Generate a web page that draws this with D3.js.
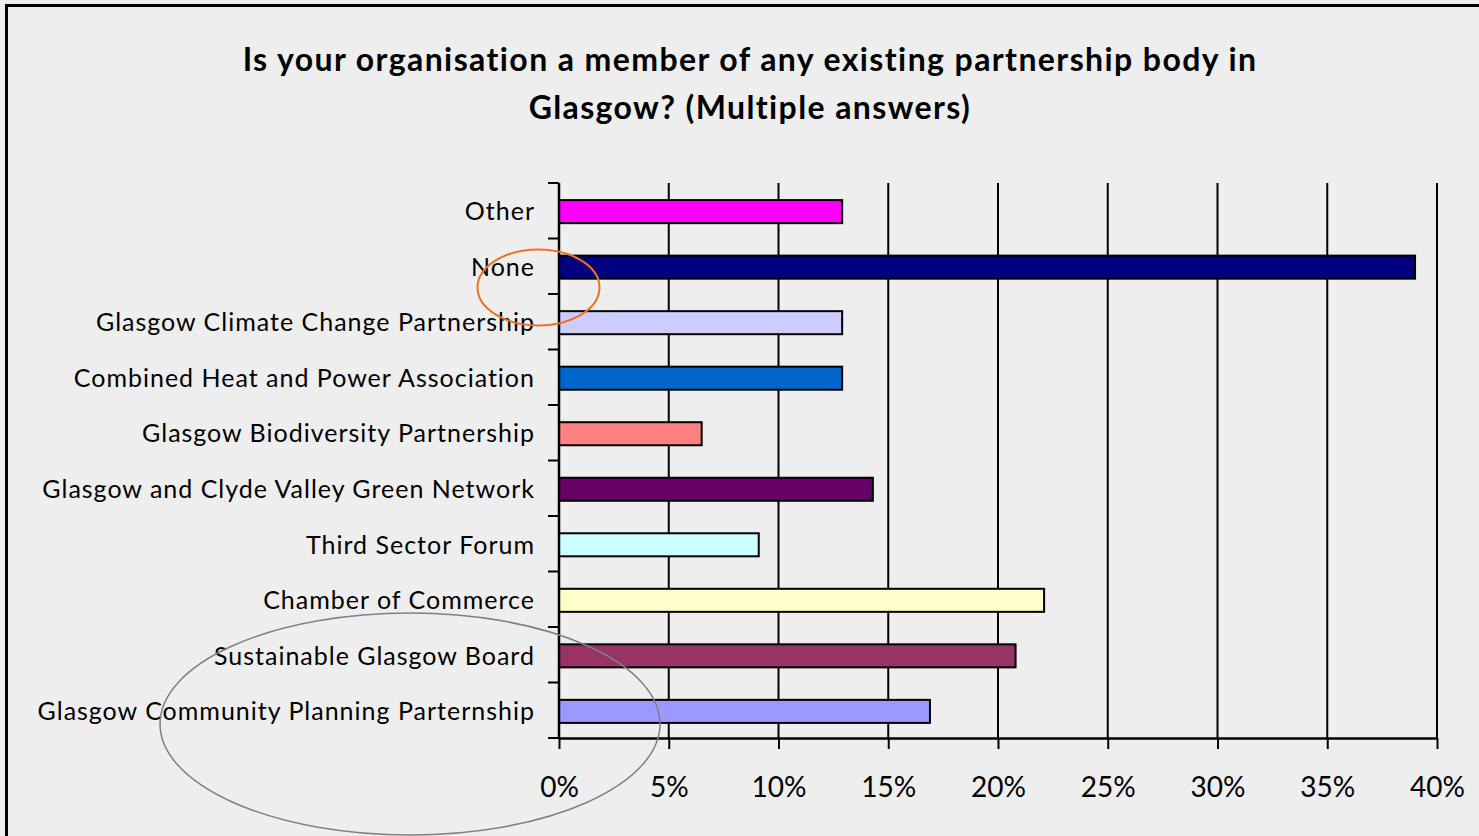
<!DOCTYPE html>
<html>
<head>
<meta charset="utf-8">
<script src="https://cdn.jsdelivr.net/npm/d3@7"></script>
<style>
  html, body { margin: 0; padding: 0; background: #eeeeee; }
  svg { display: block; }
  text { font-family: Lato, "Open Sans", sans-serif; fill: #000; }
  .title { font-weight: bold; font-size: 32px; letter-spacing: 1.4px; }
  .cat text { font-size: 25px; letter-spacing: 1px; }
  .xaxis text { font-size: 28px; }
</style>
</head>
<body>
<svg></svg>
<script>
// categories, top to bottom as in the picture
var categories = [
    "Other",
    "None",
    "Glasgow Climate Change Partnership",
    "Combined Heat and Power Association",
    "Glasgow Biodiversity Partnership",
    "Glasgow and Clyde Valley Green Network",
    "Third Sector Forum",
    "Chamber of Commerce",
    "Sustainable Glasgow Board",
    "Glasgow Community Planning Parternship"
]

// percent of respondents
var values = [12.9, 39.0, 12.9, 12.9, 6.5, 14.3, 9.1, 22.1, 20.8, 16.9]

var colors = ["#ff00ff", "#000080", "#ccccff", "#0066cc", "#ff8080",
    "#660066", "#ccffff", "#ffffcc", "#993366", "#9999ff"]

var xTicks = [0, 5, 10, 15, 20, 25, 30, 35, 40]

var titleLines = [
    "Is your organisation a member of any existing partnership body in",
    "Glasgow? (Multiple answers)"
]

var screen = {
    width: 1479,
    height: 836
}

var margins = {
    left: 559,
    right: 42,
    top: 183,
    bottom: 98
}

var graph = {
    width: screen.width - margins.left - margins.right,
    height: screen.height - margins.top - margins.bottom
}

var svg = d3.select("svg")
    .attr("width", screen.width)
    .attr("height", screen.height)

// chart area background + frame
svg.append("rect")
    .attr("x", 6.5)
    .attr("y", 5.5)
    .attr("width", screen.width + 20)
    .attr("height", screen.height + 20)
    .attr("fill", "#eeeeee")
    .attr("stroke", "black")
    .attr("stroke-width", 3)

var title = svg.append("text")
    .classed("title", true)
    .attr("text-anchor", "middle")
titleLines.forEach(function (line, i) {
    title.append("tspan")
        .attr("x", 750)
        .attr("y", 71 + i * 48)
        .text(line)
})

var xScale = d3.scaleLinear()
    .domain([0, 40])
    .range([0, graph.width])

var yScale = d3.scaleBand()
    .domain(categories)
    .range([0, graph.height])
    .paddingInner(0.585)
    .paddingOuter(0.29)

var target = svg.append("g")
    .attr("transform", "translate(" + margins.left + "," + margins.top + ")")

// vertical gridlines
target.append("g")
    .selectAll("line")
    .data(xTicks.slice(1))
    .enter()
    .append("line")
    .attr("x1", function (t) { return xScale(t) })
    .attr("x2", function (t) { return xScale(t) })
    .attr("y1", 0)
    .attr("y2", graph.height)
    .attr("stroke", "black")
    .attr("stroke-width", 2)

target.append("g")
    .selectAll("rect")
    .data(categories)
    .enter()
    .append("rect")
    .attr("x", 0)
    .attr("y", function (c) { return yScale(c) + 1 })
    .attr("width", function (c, i) { return xScale(values[i]) })
    .attr("height", yScale.bandwidth())
    .attr("fill", function (c, i) { return colors[i] })
    .attr("stroke", "black")
    .attr("stroke-width", 2)

var xAxis = d3.axisBottom(xScale)
    .tickValues(xTicks)
    .tickFormat(function (t) { return t + "%" })
    .tickSize(11)
    .tickSizeOuter(0)
    .tickPadding(28)

var xg = target.append("g")
    .classed("xaxis", true)
    .attr("transform", "translate(0," + graph.height + ")")
    .call(xAxis)
xg.select(".domain").attr("stroke-width", 2.5)
xg.selectAll(".tick line").attr("stroke-width", 2)
xg.selectAll("text").attr("font-family", null)
    .attr("font-size", null)

// category axis: ticks sit between the bars
var catAxis = target.append("g").classed("cat", true)
catAxis.append("line")
    .attr("x1", 0).attr("x2", 0)
    .attr("y1", 0).attr("y2", graph.height)
    .attr("stroke", "black")
    .attr("stroke-width", 2.5)
catAxis.selectAll(".ctick")
    .data(d3.range(categories.length + 1))
    .enter()
    .append("line")
    .attr("x1", -11).attr("x2", 0)
    .attr("y1", function (i) { return i * graph.height / categories.length })
    .attr("y2", function (i) { return i * graph.height / categories.length })
    .attr("stroke", "black")
    .attr("stroke-width", 2)
catAxis.selectAll("text")
    .data(categories)
    .enter()
    .append("text")
    .attr("x", -24)
    .attr("y", function (c) { return yScale(c) + yScale.bandwidth() / 2 + 1 })
    .attr("dy", "0.35em")
    .attr("text-anchor", "end")
    .text(function (c) { return c })

// hand-drawn highlight ellipses
svg.append("ellipse")
    .attr("cx", 538.5).attr("cy", 287.5)
    .attr("rx", 61).attr("ry", 38)
    .attr("fill", "none")
    .attr("stroke", "#f07022")
    .attr("stroke-width", 2)
svg.append("ellipse")
    .attr("cx", 410).attr("cy", 724)
    .attr("rx", 250).attr("ry", 111)
    .attr("fill", "none")
    .attr("stroke", "#808080")
    .attr("stroke-width", 1.5)
</script>
</body>
</html>
